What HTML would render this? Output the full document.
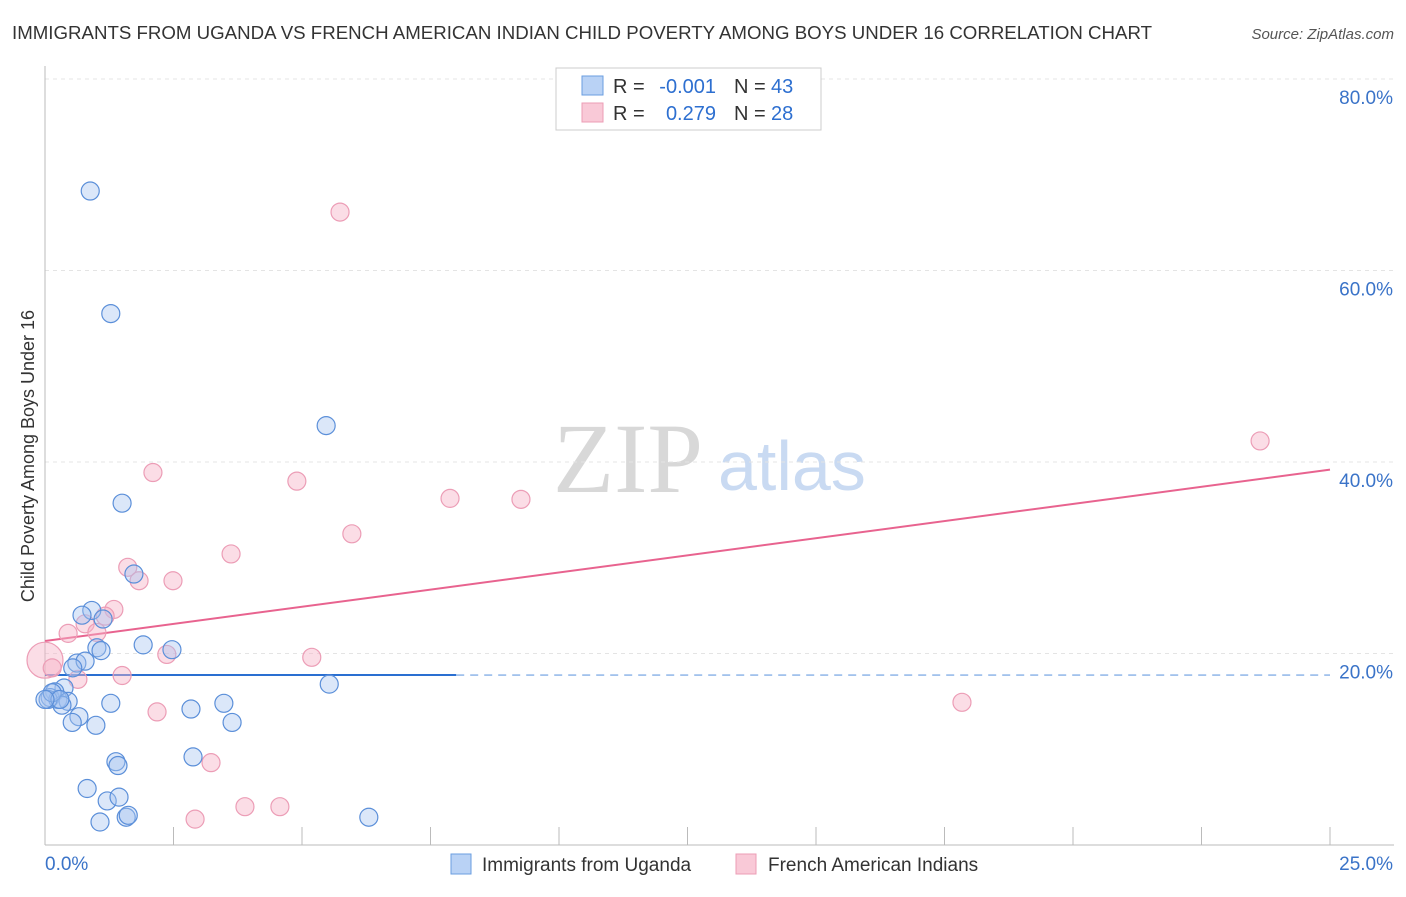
<!DOCTYPE html>
<html><head><meta charset="utf-8">
<style>
body{margin:0;background:#fff;font-family:"Liberation Sans",sans-serif;}
</style></head>
<body>
<svg id="chart" width="1406" height="892" viewBox="0 0 1406 892" font-family="Liberation Sans, sans-serif">
<text x="12" y="39" font-size="18" fill="#333" textLength="1140" lengthAdjust="spacingAndGlyphs">IMMIGRANTS FROM UGANDA VS FRENCH AMERICAN INDIAN CHILD POVERTY AMONG BOYS UNDER 16 CORRELATION CHART</text>
<text x="1394" y="39" font-size="15" fill="#555" font-style="italic" text-anchor="end">Source: ZipAtlas.com</text>
<text x="34" y="456" font-size="18" fill="#333" text-anchor="middle" transform="rotate(-90 34 456)">Child Poverty Among Boys Under 16</text>
<text x="553" y="492" font-size="100" fill="#d8d8d8" font-family="Liberation Serif, serif">ZIP</text>
<text x="718" y="490" font-size="70" fill="#c9daf2">atlas</text>
<g id="grid"></g>
<g id="axes"></g>
<g id="lines"></g>
<g id="pts"></g>
<g>
<rect x="556" y="68" width="265" height="62" fill="#fff" stroke="#ccc"/>
<rect x="582" y="76" width="21" height="19" fill="#b9d2f5" stroke="#6a9ee0"/>
<rect x="582" y="103" width="21" height="19" fill="#f9c9d7" stroke="#ec9db6"/>
<text x="613" y="93" font-size="20" fill="#333">R =</text>
<text x="716" y="93" font-size="20" fill="#2d6fd0" text-anchor="end">-0.001</text>
<text x="734" y="93" font-size="20" fill="#333">N =</text>
<text x="771" y="93" font-size="20" fill="#2d6fd0">43</text>
<text x="613" y="120" font-size="20" fill="#333">R =</text>
<text x="716" y="120" font-size="20" fill="#2d6fd0" text-anchor="end">0.279</text>
<text x="734" y="120" font-size="20" fill="#333">N =</text>
<text x="771" y="120" font-size="20" fill="#2d6fd0">28</text>
</g>
<g>
<rect x="451" y="854" width="20" height="20" fill="#b9d2f5" stroke="#6a9ee0"/>
<text x="482" y="871" font-size="19" fill="#333">Immigrants from Uganda</text>
<rect x="736" y="854" width="20" height="20" fill="#f9c9d7" stroke="#ec9db6"/>
<text x="768" y="871" font-size="19" fill="#333">French American Indians</text>
</g>
</svg>
<script>
const yTicks=[20,40,60,80];
const xTickLabels=["0.0%","25.0%"];
const blueX=[0.88,1.28,5.47,1.5,1.73,0.91,0.72,1.13,1.01,1.09,1.91,2.47,0.62,0.78,0.54,0.37,0.19,0.1,0.25,0.45,0.33,1.28,0.66,0.53,0.99,2.84,3.48,3.64,5.53,2.88,1.38,1.42,0.82,1.21,1.44,1.07,1.58,1.62,6.3,0.06,0.14,0.29,0.0];
const blueY=[68.3,55.5,43.8,35.7,28.3,24.5,24.0,23.6,20.6,20.3,20.9,20.4,19.0,19.2,18.5,16.4,16.0,15.4,15.2,15.0,14.6,14.8,13.4,12.8,12.5,14.2,14.8,12.8,16.8,9.2,8.7,8.3,5.9,4.6,5.0,2.4,2.9,3.1,2.9,15.2,15.9,15.2,15.2];
const pinkX=[5.74,23.64,2.1,4.9,7.88,9.26,5.97,3.62,1.61,1.83,2.49,1.34,1.17,0.78,1.01,0.45,2.37,5.19,0.0,0.14,0.64,1.5,2.18,17.84,3.23,3.89,4.57,2.92];
const pinkY=[66.1,42.2,38.9,38.0,36.2,36.1,32.5,30.4,29.0,27.6,27.6,24.6,23.9,23.1,22.2,22.1,19.9,19.6,19.3,18.5,17.3,17.7,13.9,14.9,8.6,4.0,4.0,2.7];
const blueLine=[17.75,17.75];
const pinkLine=[21.3,39.2];
const NS="http://www.w3.org/2000/svg";
const X0=45,X1=1330,Y0=845,YPER=9.575;
function sx(v){return X0+(X1-X0)*v/25;}
function sy(v){return Y0-v*YPER;}
function mk(t,a,p){const e=document.createElementNS(NS,t);for(const k in a)e.setAttribute(k,a[k]);p.appendChild(e);return e;}
const grid=document.getElementById('grid'),axes=document.getElementById('axes'),lines=document.getElementById('lines'),pts=document.getElementById('pts');
yTicks.forEach(v=>{
 const l=mk('line',{x1:X0,x2:1394,y1:sy(v),y2:sy(v),stroke:'#e4e4e4','stroke-dasharray':'4,4'},grid);
 
 
 const t=mk('text',{x:1393,y:sy(v)+25,'font-size':19,fill:'#3a73c8','text-anchor':'end'},grid);
 t.textContent=v.toFixed(1)+'%';
 
 
});
mk('line',{x1:X0,x2:X0,y1:66,y2:Y0,stroke:'#bbb'},axes);
mk('line',{x1:X0,x2:1394,y1:Y0,y2:Y0,stroke:'#bbb'},axes);
for(let i=1;i<=10;i++){const x=sx(i*2.5);mk('line',{x1:x,x2:x,y1:Y0,y2:Y0-18,stroke:'#bbb'},axes);}
let t0=mk('text',{x:45,y:870,'font-size':19,fill:'#3a73c8'},axes);t0.textContent=xTickLabels[0];


let t1=mk('text',{x:1393,y:870,'font-size':19,fill:'#3a73c8','text-anchor':'end'},axes);t1.textContent=xTickLabels[1];


const bl=mk('line',{x1:sx(0),x2:sx(8),y1:sy(blueLine[0]),y2:sy(blueLine[0]+(blueLine[1]-blueLine[0])*8/25),stroke:'#2a6fd1','stroke-width':2},lines);


const bd=mk('line',{x1:sx(8),x2:sx(25),y1:sy(blueLine[0]+(blueLine[1]-blueLine[0])*8/25),y2:sy(blueLine[1]),stroke:'#6a9ee0','stroke-width':1.2,'stroke-dasharray':'8,6'},lines);


const pl=mk('line',{x1:sx(0),x2:sx(25),y1:sy(pinkLine[0]),y2:sy(pinkLine[1]),stroke:'#e8638f','stroke-width':2},lines);


pinkX.forEach((x,i)=>{
 const c=mk('circle',{cx:sx(x),cy:sy(pinkY[i]),r:(x===0?18:9),fill:'rgba(247,180,200,0.45)',stroke:'#ec9db6','stroke-width':1.2},pts);
 
 
});
blueX.forEach((x,i)=>{
 const c=mk('circle',{cx:sx(x),cy:sy(blueY[i]),r:9,fill:'rgba(164,196,240,0.4)',stroke:'#5b8fd9','stroke-width':1.2},pts);
 
 
});
</script>
</body></html>
